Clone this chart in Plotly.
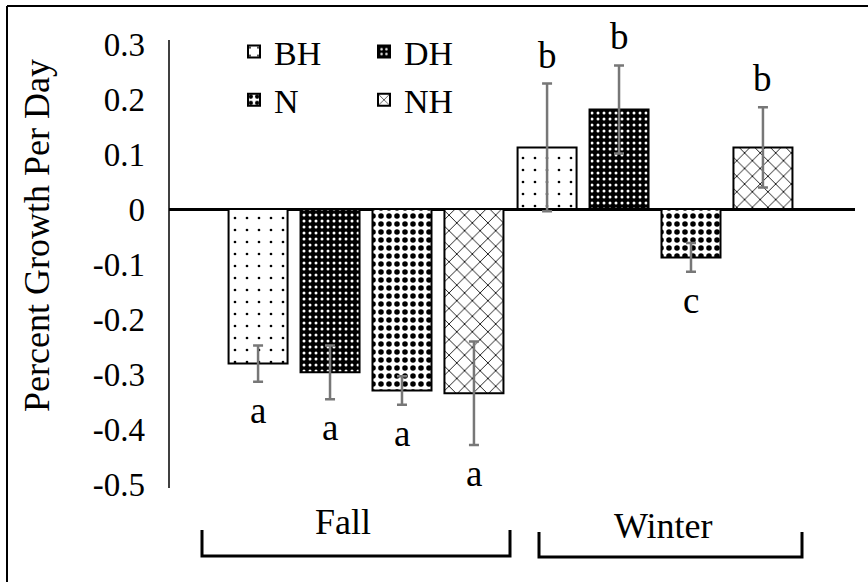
import plotly.graph_objects as go

# ---------------- data ----------------
seasons = ["Fall", "Winter"]
series_names = ["BH", "DH", "N", "NH"]

bh_values = [-0.281, 0.112]
dh_values = [-0.297, 0.181]
n_values = [-0.330, -0.088]
nh_values = [-0.335, 0.112]

bh_errors = [0.033, 0.116]
dh_errors = [0.049, 0.080]
n_errors = [0.026, 0.026]
nh_errors = [0.094, 0.073]

bh_letters = ["a", "b"]
dh_letters = ["a", "b"]
n_letters = ["a", "c"]
nh_letters = ["a", "b"]

y_tick_values = [-0.5, -0.4, -0.3, -0.2, -0.1, 0, 0.1, 0.2, 0.3]
y_tick_labels = ["-0.5", "-0.4", "-0.3", "-0.2", "-0.1", "0", "0.1", "0.2", "0.3"]
y_title = "Percent Growth Per Day"

# ---------------- layout constants ----------------
W, H = 868, 582
ML, MR, MT, MB = 169, 13, 44, 98
PW, PH = W - ML - MR, H - MT - MB
XR = [-0.6817, 1.692]
YR = [-0.5, 0.3]
BARGAP = 0.004
GROUPGAP = 0.18
FONT = "Liberation Serif"

def paper(px, py):
    return (px - ML) / PW, (H - MB - py) / PH

values = [bh_values, dh_values, n_values, nh_values]
errors = [bh_errors, dh_errors, n_errors, nh_errors]
letters = [bh_letters, dh_letters, n_letters, nh_letters]

styles = [
    dict(shape=".", fg="black", bg="white", size=12, sol=0.04),
    dict(shape=".", fg="white", bg="black", size=6, sol=0.2),
    dict(shape=".", fg="black", bg="white", size=8, sol=0.38),
    dict(shape="x", fg="black", bg="white", size=11, sol=0.15),
]
legend_ref = ["legend", "legend2", "legend", "legend2"]

fig = go.Figure()
for i, name in enumerate(series_names):
    st = styles[i]
    fig.add_trace(go.Bar(
        name=name,
        x=seasons,
        y=values[i],
        legend=legend_ref[i],
        legendgroup=name,
        marker=dict(
            color=st["bg"],
            line=dict(color="black", width=2),
            pattern=dict(shape=st["shape"], fgcolor=st["fg"], bgcolor=st["bg"],
                         size=st["size"], solidity=st["sol"], fillmode="replace"),
        ),
        error_y=dict(type="data", array=errors[i], color="#777777",
                     thickness=2.5, width=5),
    ))

# letters of significance
unit_px = PW / (XR[1] - XR[0])
slot_px = unit_px * (1 - BARGAP) / len(series_names)
annotations = []
for i in range(len(series_names)):
    for j, season in enumerate(seasons):
        v = values[i][j]
        e = errors[i][j]
        if v < 0:
            y, anchor, shift = v - e, "top", -6
        else:
            y, anchor, shift = v + e, "bottom", 6
        annotations.append(dict(
            x=season, y=y, xref="x", yref="y", text=letters[i][j],
            showarrow=False, yanchor=anchor, yshift=shift,
            xshift=(i - 1.5) * slot_px,
            font=dict(family=FONT, size=37, color="black"),
        ))

# season labels
for label, (px, py) in zip(seasons, [(343, 522), (663, 526)]):
    xp, yp = paper(px, py)
    annotations.append(dict(x=xp, y=yp, xref="paper", yref="paper", text=label,
                            showarrow=False, xanchor="center", yanchor="middle",
                            font=dict(family=FONT, size=36, color="black")))

# y-axis title
xp, yp = paper(37, 236)
annotations.append(dict(x=xp, y=yp, xref="paper", yref="paper", text=y_title,
                        textangle=-90, showarrow=False, xanchor="center", yanchor="middle",
                        font=dict(family=FONT, size=36, color="black")))

# y axis line, brackets and frame
shapes = []
a0 = paper(169, 40); a1 = paper(169, 488)
shapes.append(dict(type="line", xref="paper", yref="paper", x0=a0[0], y0=a0[1], x1=a1[0], y1=a1[1],
                   line=dict(color="black", width=1.5)))
for (x0, x1, ytop, ybot) in [(202, 510, 530, 556), (539, 802, 532, 557)]:
    a = paper(x0, ytop); b = paper(x0, ybot); c = paper(x1, ybot); d = paper(x1, ytop)
    shapes.append(dict(type="path", xref="paper", yref="paper",
                       path=f"M{a[0]},{a[1]} L{b[0]},{b[1]} L{c[0]},{c[1]} L{d[0]},{d[1]}",
                       line=dict(color="black", width=3)))
f0 = paper(7, 6); f1 = paper(7, 582); f2 = paper(868, 6)
shapes.append(dict(type="line", xref="paper", yref="paper", x0=f0[0], y0=f0[1], x1=f1[0], y1=f1[1],
                   line=dict(color="black", width=2)))
shapes.append(dict(type="line", xref="paper", yref="paper", x0=f0[0], y0=f0[1], x1=f2[0], y1=f2[1],
                   line=dict(color="black", width=2)))

l1 = paper(234, 23)
l2 = paper(364, 23)
legend_common = dict(xanchor="left", yanchor="top", bgcolor="rgba(0,0,0,0)",
                     font=dict(family=FONT, size=34, color="black"),
                     tracegroupgap=1, orientation="v")

fig.update_layout(
    width=W, height=H,
    margin=dict(l=ML, r=MR, t=MT, b=MB),
    paper_bgcolor="white", plot_bgcolor="white",
    barmode="group", bargap=BARGAP, bargroupgap=GROUPGAP,
    font=dict(family=FONT, color="black"),
    xaxis=dict(type="category", range=XR, showticklabels=False, showgrid=False,
               zeroline=False, showline=False, ticks=""),
    yaxis=dict(range=YR, tickvals=y_tick_values, ticktext=y_tick_labels,
               showline=False, showgrid=False,
               zeroline=True, zerolinecolor="black", zerolinewidth=2.5, ticks="",
               tickfont=dict(family=FONT, size=33, color="black"), ticklabelstandoff=23),
    legend=dict(x=l1[0], y=l1[1], **legend_common),
    legend2=dict(x=l2[0], y=l2[1], **legend_common),
    annotations=annotations,
    shapes=shapes,
)

fig.write_html("out.html")
